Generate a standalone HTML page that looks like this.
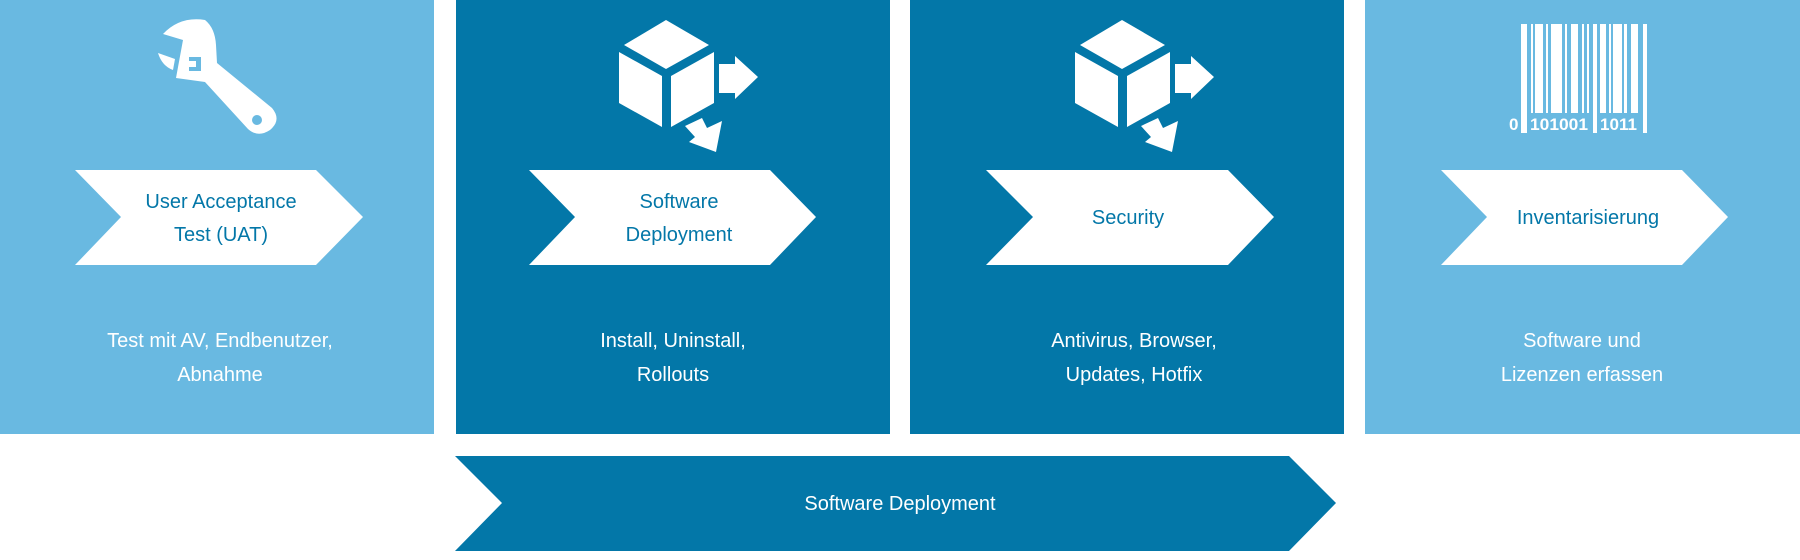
<!DOCTYPE html>
<html><head><meta charset="utf-8"><style>
html,body{margin:0;padding:0;background:#fff;}
body{width:1800px;height:560px;overflow:hidden;position:relative;font-family:"Liberation Sans",sans-serif;}
</style></head><body>
<svg width="1800" height="560" viewBox="0 0 1800 560" xmlns="http://www.w3.org/2000/svg" style="position:absolute;left:0;top:0">
<defs>
<g id="cube" fill="#fff">
<polygon points="666,20 709,45 666,69 624,45"/>
<polygon points="619,52 662,76 662,127 619,103"/>
<polygon points="714,52 671,76 671,127 714,103"/>
<polygon points="719,64 735,64 735,56 758,77 735,99 735,93 719,93"/>
<polygon points="685,126 702,118 707,128 722,121 716,152 689,142 695,137"/>
</g>
</defs>
<rect x="0" y="0" width="434" height="434" fill="#69b9e1"/>
<rect x="456" y="0" width="434" height="434" fill="#0377a8"/>
<rect x="910" y="0" width="434" height="434" fill="#0377a8"/>
<rect x="1365" y="0" width="435" height="434" fill="#69b9e1"/>

<!-- wrench -->
<g fill="#fff">
<path d="M163,34 Q180,16 205,20 Q215,28 216,45 L217,63 L272,108 Q282,120 270,130 Q258,138 248,129 L205,82 L176,78 L183,40 Z"/>
<path d="M158,53 L175,59 L173,70 Q162,66 158,53 Z"/>
</g>
<rect x="189" y="57" width="12" height="14" fill="#69b9e1"/>
<rect x="189" y="61" width="7" height="6" fill="#fff"/>
<circle cx="257" cy="120" r="5" fill="#69b9e1"/>

<use href="#cube"/>
<use href="#cube" transform="translate(456,0)"/>

<!-- barcode -->
<g fill="#fff">
<rect x="1521" y="24" width="6" height="109"/>
<rect x="1531" y="24" width="2" height="89"/>
<rect x="1535" y="24" width="8" height="89"/>
<rect x="1546" y="24" width="2" height="89"/>
<rect x="1551" y="24" width="11" height="89"/>
<rect x="1565" y="24" width="2" height="89"/>
<rect x="1571" y="24" width="7" height="89"/>
<rect x="1582" y="24" width="2" height="89"/>
<rect x="1587" y="24" width="2" height="89"/>
<rect x="1593" y="24" width="4" height="109"/>
<rect x="1600" y="24" width="6" height="89"/>
<rect x="1609" y="24" width="2" height="89"/>
<rect x="1613" y="24" width="9" height="89"/>
<rect x="1624" y="24" width="3" height="89"/>
<rect x="1631" y="24" width="7" height="89"/>
<rect x="1643" y="24" width="4" height="109"/>
<text x="1509" y="130" font-size="17" font-weight="bold" font-family="Liberation Sans, sans-serif">0</text>
<text x="1530" y="130" font-size="17" font-weight="bold" font-family="Liberation Sans, sans-serif" textLength="58" lengthAdjust="spacingAndGlyphs">101001</text>
<text x="1600" y="130" font-size="17" font-weight="bold" font-family="Liberation Sans, sans-serif" textLength="37" lengthAdjust="spacingAndGlyphs">1011</text>
</g>

<!-- chevrons -->
<g fill="#fff">
<polygon points="75,170 316,170 363,217 316,265 75,265 121,217"/>
<polygon points="529,170 770,170 816,217 770,265 529,265 575,217"/>
<polygon points="986,170 1228,170 1274,217 1228,265 986,265 1033,217"/>
<polygon points="1441,170 1682,170 1728,217 1682,265 1441,265 1487,217"/>
</g>
<polygon points="455,456 1289,456 1336,503 1289,551 455,551 502,503" fill="#0377a8"/>

<g font-family="Liberation Sans, sans-serif" font-size="20" text-anchor="middle" fill="#0377a8">
<text x="221" y="208">User Acceptance</text>
<text x="221" y="241">Test (UAT)</text>
<text x="679" y="208">Software</text>
<text x="679" y="241">Deployment</text>
<text x="1128" y="224">Security</text>
<text x="1588" y="224">Inventarisierung</text>
</g>
<g font-family="Liberation Sans, sans-serif" font-size="20" text-anchor="middle" fill="#fff">
<text x="220" y="347">Test mit AV, Endbenutzer,</text>
<text x="220" y="381">Abnahme</text>
<text x="673" y="347">Install, Uninstall,</text>
<text x="673" y="381">Rollouts</text>
<text x="1134" y="347">Antivirus, Browser,</text>
<text x="1134" y="381">Updates, Hotfix</text>
<text x="1582" y="347">Software und</text>
<text x="1582" y="381">Lizenzen erfassen</text>
<text x="900" y="510">Software Deployment</text>
</g>
</svg>
</body></html>
